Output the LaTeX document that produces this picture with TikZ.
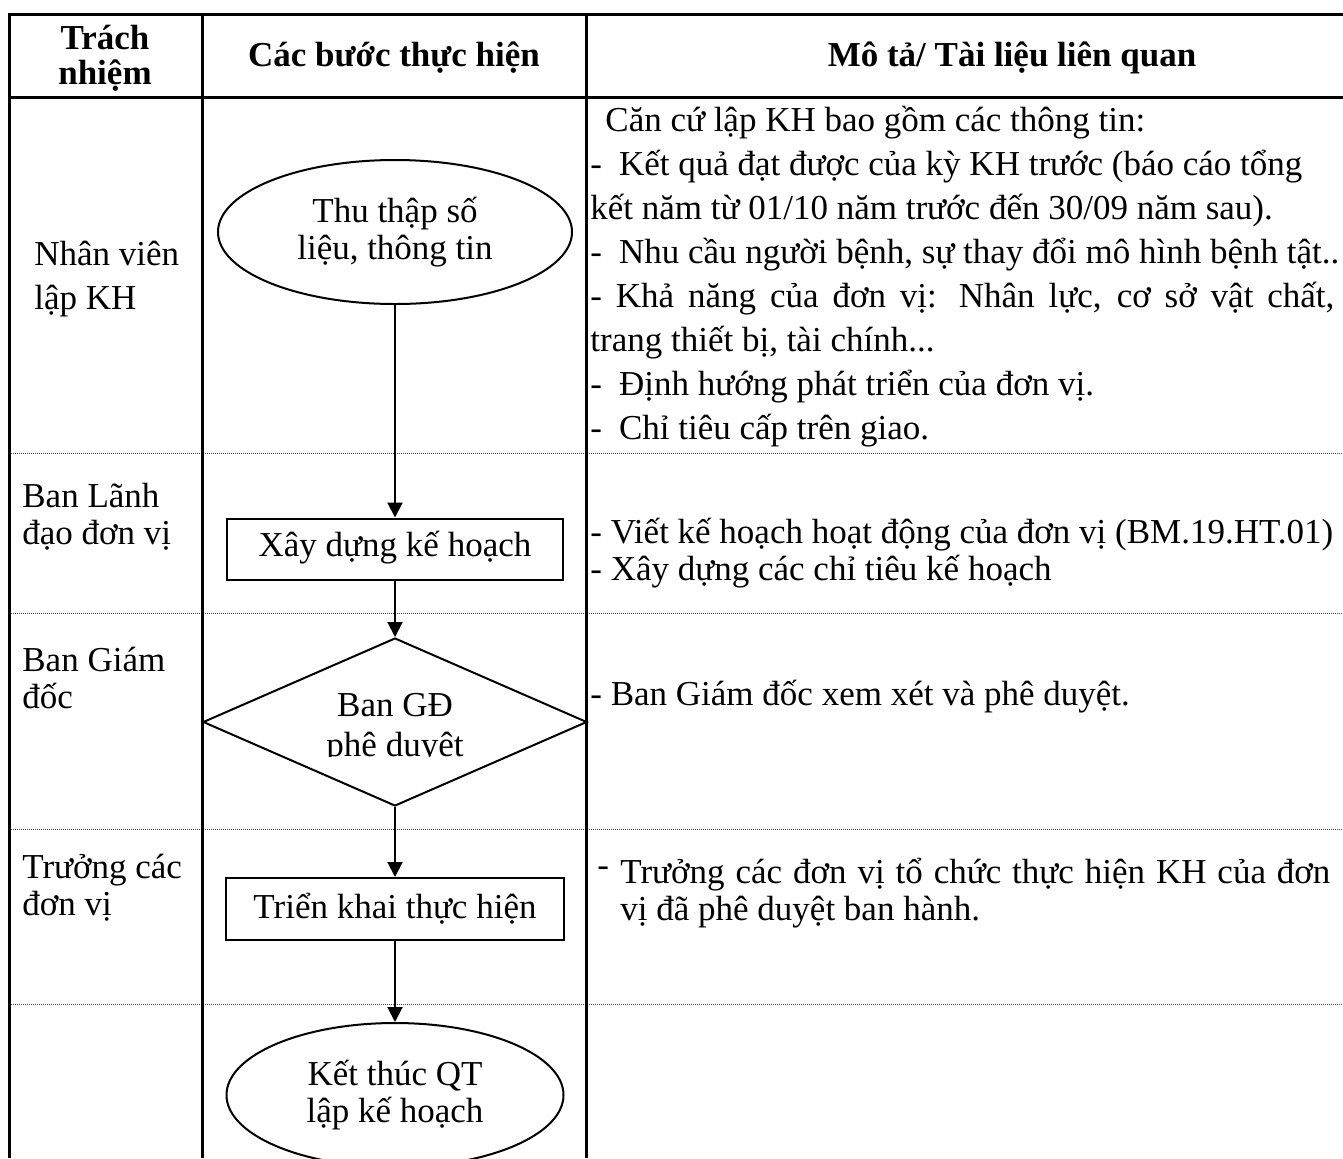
\documentclass[tikz,border=0pt]{standalone}
\usepackage{fontspec}
\setmainfont{Liberation Serif}
\usetikzlibrary{shapes.geometric,arrows.meta,positioning}

\tikzset{
    khung/.style={line width=1.5pt},
    luoi/.style={black!70, line width=0.5pt, dash pattern=on 0.5pt off 0.5pt},
    chu/.style={font=\fontsize{17.5}{22}\selectfont, inner sep=0pt},
    chuhep/.style={font=\fontsize{17.5}{18.5}\selectfont, inner sep=0pt},
    tieude/.style={font=\bfseries\fontsize{17.5}{17.5}\selectfont, inner sep=0pt, align=center},
    buoc/.style={draw, line width=1pt, rectangle, minimum width=168pt, minimum height=30.5pt, chuhep},
    elip/.style={draw, line width=1pt, ellipse, align=center, chuhep},
    thoi/.style={draw, line width=1pt, diamond, minimum width=192pt, minimum height=84pt, inner sep=0pt},
    muiten/.style={line width=1pt, -{Triangle[length=7.5pt,width=7.5pt]}}
}

\begin{document}
\begin{tikzpicture}[x=0.5pt, y=-0.5pt]
\useasboundingbox (0,0) rectangle (1343,1158);

%%% duong cham giua cac hang
\draw[luoi] (9,453) -- (1343,453);
\draw[luoi] (9,613) -- (1343,613);
\draw[luoi] (9,829) -- (1343,829);
\draw[luoi] (9,1004) -- (1343,1004);

%%% khung bang
\draw[khung] (1343,14) -- (9,14) -- (9,1158);
\draw[khung] (9,97) -- (1343,97);
\draw[khung] (202,14) -- (202,1158);
\draw[khung] (586,14) -- (586,1158);

%%% tieu de
\node[tieude] (tn) at (105,58) {Trách\\nhiệm};
\node[tieude] (cb) at (394,58) {Các bước thực hiện};
\node[tieude] (mt) at (1012,58) {Mô tả/ Tài liệu liên quan};

%%% trach nhiem
\node[chu, align=left, anchor=west] (nv) at (34,279) {Nhân viên\\lập KH};
\node[chuhep, align=left, anchor=west] (bld) at (22,517) {Ban Lãnh\\đạo đơn vị};
\node[chuhep, align=left, anchor=west] (bgd) at (22,678) {Ban Giám\\đốc};
\node[chuhep, align=left, anchor=west] (tdv) at (22,888) {Trưởng các\\đơn vị};

%%% cac buoc
\node[elip, minimum width=177pt, minimum height=72pt] (thu) at (395,232) {Thu thập số\\liệu, thông tin};
\node[buoc, text height=15pt, text depth=8pt] (xd) at (395,549) {Xây dựng kế hoạch};
\node[thoi] (gd) at (395,722) {};
\begin{scope}
    \clip (200,670) rectangle (590,756);
    \node[align=center, font=\fontsize{17.5}{20}\selectfont, inner sep=0pt] (gdchu) at (395,729) {Ban GĐ\\phê duyệt};
\end{scope}
\node[buoc, minimum width=169pt, minimum height=31pt] (tk) at (395,909) {Triển khai thực hiện};
\node[elip, minimum width=168.5pt, minimum height=72pt] (kt) at (395,1095) {Kết thúc QT\\lập kế hoạch};

% mui ten
\draw[muiten] (thu) -- (xd);
\draw[muiten] (xd) -- (gd);
\draw[muiten] (gd) -- (tk);
\draw[muiten] (tk) -- (kt);

%%% mo ta
\node[chu, align=left, anchor=north west] (mota1) at (590,106) {%
\hspace*{7.5pt}Căn cứ lập KH bao gồm các thông tin:\\
-\hspace{8.5pt}Kết quả đạt được của kỳ KH trước (báo cáo tổng\\
kết năm từ 01/10 năm trước đến 30/09 năm sau).\\
-\hspace{8.5pt}Nhu cầu người bệnh, sự thay đổi mô hình bệnh tật..\\
\makebox[372pt][s]{- Khả năng của đơn vị: Nhân lực, cơ sở vật chất,}\\
trang thiết bị, tài chính...\\
-\hspace{8.5pt}Định hướng phát triển của đơn vị.\\
-\hspace{8.5pt}Chỉ tiêu cấp trên giao.};
\node[chuhep, align=left, anchor=west] (mota2) at (590,553) {%
- Viết kế hoạch hoạt động của đơn vị (BM.19.HT.01)\\
- Xây dựng các chỉ tiêu kế hoạch};
\node[chu, anchor=west] (mota3) at (590,697) {- Ban Giám đốc xem xét và phê duyệt.};
\node[chu, anchor=base west] (gach4) at (597,876) {-};
\node[chuhep, align=left, anchor=west] (mota4) at (620,893) {%
\makebox[355pt][s]{Trưởng các đơn vị tổ chức thực hiện KH của đơn}\\
vị đã phê duyệt ban hành.};
\end{tikzpicture}
\end{document}
